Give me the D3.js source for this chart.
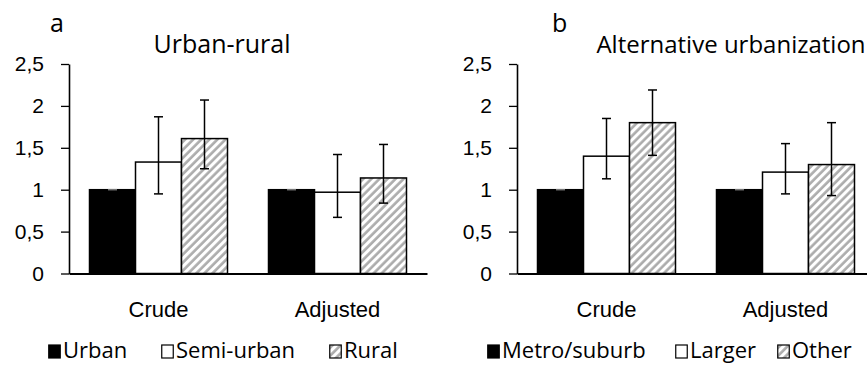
<!DOCTYPE html>
<html>
<head>
<meta charset="utf-8">
<script src="https://cdn.jsdelivr.net/npm/d3@7"></script>
<style>
    body { margin: 0; background: #fff; }
    svg { display: block; font-family: "Open Sans", sans-serif; }
    .axis text { font-size: 21px; fill: #000; }
    .axis path, .axis line { stroke: #000; }
</style>
</head>
<body>
<div id="chart"></div>
<script>
// categories and tick labels
let categories = ["Crude", "Adjusted"];
let yTicks = [0, 0.5, 1, 1.5, 2, 2.5];

// panel a - urban-rural
let seriesA = ["Urban", "Semi-urban", "Rural"];
let urbanValues = [1, 1];
let semiUrbanValues = [1.33, 0.97];
let semiUrbanLow = [0.95, 0.67];
let semiUrbanHigh = [1.87, 1.42];
let ruralValues = [1.61, 1.14];
let ruralLow = [1.25, 0.84];
let ruralHigh = [2.07, 1.54];

// panel b - alternative urbanization
let seriesB = ["Metro/suburb", "Larger", "Other"];
let metroValues = [1, 1];
let largerValues = [1.40, 1.21];
let largerLow = [1.13, 0.95];
let largerHigh = [1.85, 1.55];
let otherValues = [1.80, 1.30];
let otherLow = [1.41, 0.93];
let otherHigh = [2.19, 1.80];

let fills = ["#000", "#fff", "url(#hatch)"];

let width = 867, height = 368;

let svg = d3.select("#chart")
    .append("svg")
    .attr("width", width)
    .attr("height", height);

let pattern = svg.append("defs")
    .append("pattern")
    .attr("id", "hatch")
    .attr("patternUnits", "userSpaceOnUse")
    .attr("width", 5.7)
    .attr("height", 5.7)
    .attr("patternTransform", "rotate(45)");
pattern.append("rect")
    .attr("width", 5.7)
    .attr("height", 5.7)
    .attr("fill", "#fff");
pattern.append("line")
    .attr("x1", 1.5).attr("y1", 0)
    .attr("x2", 1.5).attr("y2", 5.7)
    .attr("stroke", "#ababab")
    .attr("stroke-width", 2.6);

function buildRows(names, values, lows, highs){
    // one row per series: value and CI for each category
    return names.map(function(name, i){
        return {
            name: name,
            fill: fills[i],
            points: categories.map(function(c, j){
                return {category: c, value: values[i][j], low: lows[i][j], high: highs[i][j]};
            })
        };
    });
}

function drawPanel(opts){
    let left = opts.left, right = opts.left + 358;
    let top = 64, bottom = 273.5;

    let g = svg.append("g");

    let y = d3.scaleLinear()
        .domain([0, 2.5])
        .range([bottom, top]);

    let x = d3.scaleBand()
        .domain(categories)
        .range([left, right]);

    let xs = d3.scaleBand()
        .domain(opts.rows.map(function(d){ return d.name; }))
        .range([0, x.bandwidth()])
        .paddingInner(0)
        .paddingOuter(0.4457);

    // y axis
    g.append("g")
        .attr("class", "axis y")
        .attr("transform", "translate(" + left + ",0)")
        .call(d3.axisLeft(y)
            .tickValues(yTicks)
            .tickSizeInner(8)
            .tickSizeOuter(0)
            .tickPadding(17)
            .tickFormat(function(d){ return String(d).replace(".", ","); }))
        .call(function(a){
            a.select(".domain").attr("stroke-width", 1.6);
            a.selectAll(".tick line").attr("stroke-width", 1.3);
        });

    // bars
    let series = g.selectAll(".series")
        .data(opts.rows)
        .enter()
        .append("g")
        .attr("class", "series");

    series.selectAll("rect")
        .data(function(d){ return d.points.map(function(p){ return {s: d, p: p}; }); })
        .enter()
        .append("rect")
        .attr("x", function(d){ return x(d.p.category) + xs(d.s.name); })
        .attr("width", xs.bandwidth())
        .attr("y", function(d){ return y(d.p.value); })
        .attr("height", function(d){ return y(0) - y(d.p.value); })
        .attr("fill", function(d){ return d.s.fill; })
        .attr("stroke", "#000")
        .attr("stroke-width", 1.5);

    // error bars
    let err = series.selectAll(".err")
        .data(function(d){
            return d.points.map(function(p){ return {s: d, p: p}; });
        })
        .enter()
        .append("g")
        .attr("class", "err")
        .attr("stroke", "#000")
        .attr("stroke-width", 1.5)
        .attr("transform", function(d){
            return "translate(" + (x(d.p.category) + xs(d.s.name) + xs.bandwidth() / 2) + ",0)";
        });

    err.filter(function(d){ return d.p.high > d.p.low; })
        .append("line")
        .attr("y1", function(d){ return y(d.p.low); })
        .attr("y2", function(d){ return y(d.p.high); });

    err.selectAll(".cap")
        .data(function(d){ return d.p.high > d.p.low ? [d.p.low, d.p.high] : [d.p.low]; })
        .enter()
        .append("line")
        .attr("class", "cap")
        .attr("x1", -4.5)
        .attr("x2", 4.5)
        .attr("y1", function(v){ return y(v); })
        .attr("y2", function(v){ return y(v); })
        .attr("stroke", function(v){ return v === 1 ? "#777" : "#000"; });

    // x axis
    g.append("g")
        .attr("class", "axis x")
        .attr("transform", "translate(0," + bottom + ")")
        .call(d3.axisBottom(x).tickSize(0).tickPadding(28))
        .call(function(a){
            a.select(".domain").attr("stroke-width", 2.2);
            a.selectAll(".tick text").style("font-size", "22px");
        });

    // panel letter and title
    g.append("text")
        .attr("x", opts.letterX)
        .attr("y", 32)
        .style("font-size", "25px")
        .text(opts.letter);

    g.append("text")
        .attr("x", opts.titleX)
        .attr("y", 53)
        .attr("text-anchor", "middle")
        .style("font-size", opts.titleSize + "px")
        .text(opts.title);

    // legend
    let legend = g.selectAll(".legend")
        .data(opts.rows)
        .enter()
        .append("g")
        .attr("class", "legend")
        .attr("transform", function(d, i){ return "translate(" + opts.legendX[i] + ",0)"; });

    legend.append("rect")
        .attr("x", 0.75)
        .attr("y", 345)
        .attr("width", 11.5)
        .attr("height", 13)
        .attr("fill", function(d){ return d.fill; })
        .attr("stroke", "#000")
        .attr("stroke-width", 1.2);

    legend.append("text")
        .attr("x", 15)
        .attr("y", 358)
        .style("font-size", "22px")
        .text(function(d){ return d.name; });
}

drawPanel({
    left: 69,
    letter: "a",
    letterX: 50,
    title: "Urban-rural",
    titleX: 222,
    titleSize: 25,
    legendX: [48, 161, 329],
    rows: buildRows(seriesA,
        [urbanValues, semiUrbanValues, ruralValues],
        [urbanValues, semiUrbanLow, ruralLow],
        [urbanValues, semiUrbanHigh, ruralHigh])
});

drawPanel({
    left: 517,
    letter: "b",
    letterX: 552,
    title: "Alternative urbanization",
    titleX: 731,
    titleSize: 24,
    legendX: [487, 675, 777],
    rows: buildRows(seriesB,
        [metroValues, largerValues, otherValues],
        [metroValues, largerLow, otherLow],
        [metroValues, largerHigh, otherHigh])
});
</script>
</body>
</html>
